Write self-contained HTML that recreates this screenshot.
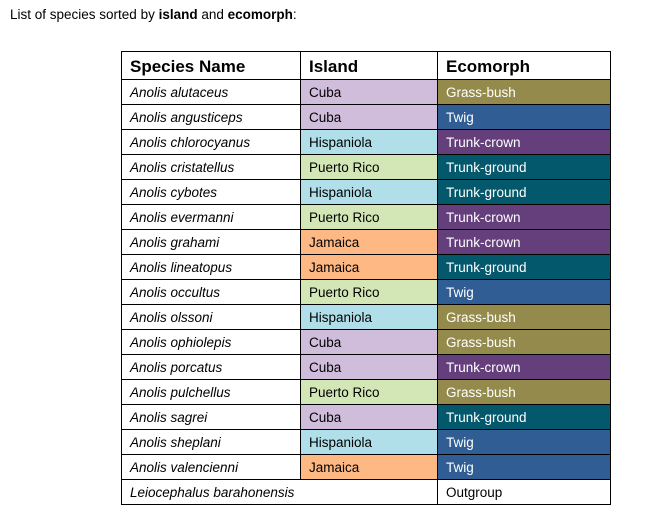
<!DOCTYPE html>
<html><head><meta charset="utf-8"><style>
body{margin:0;width:647px;height:520px;background:#fff;font-family:"Liberation Sans",sans-serif;position:relative;overflow:hidden}
#title{position:absolute;left:10px;top:7px;font-size:13.5px;color:#000}
table{position:absolute;left:121px;top:51px;border-collapse:collapse;table-layout:fixed;width:489px}
td,th{border:1px solid #000;height:24px;padding:0 0 0 8px;font-size:13.5px;text-align:left;white-space:nowrap;overflow:hidden}
th{font-size:17px;font-weight:bold;height:25px;padding-top:2px}
td.sp{font-style:italic}
.Cuba{background:#d0bddb}.Hispaniola{background:#b0dfe9}.PR{background:#d3e6b5}.Jamaica{background:#fdb884}
.gb{background:#948a4c;color:#fff}.tw{background:#2f5d94;color:#fff}.tc{background:#653f7c;color:#fff}.tg{background:#04586b;color:#fff}
</style></head><body>
<div id="title">List of species sorted by <b>island</b> and <b>ecomorph</b>:</div>
<table>
<colgroup><col style="width:179px"><col style="width:137px"><col style="width:173px"></colgroup>
<tr><th>Species Name</th><th>Island</th><th>Ecomorph</th></tr>
<tr><td class="sp">Anolis alutaceus</td><td class="Cuba">Cuba</td><td class="gb">Grass-bush</td></tr>
<tr><td class="sp">Anolis angusticeps</td><td class="Cuba">Cuba</td><td class="tw">Twig</td></tr>
<tr><td class="sp">Anolis chlorocyanus</td><td class="Hispaniola">Hispaniola</td><td class="tc">Trunk-crown</td></tr>
<tr><td class="sp">Anolis cristatellus</td><td class="PR">Puerto Rico</td><td class="tg">Trunk-ground</td></tr>
<tr><td class="sp">Anolis cybotes</td><td class="Hispaniola">Hispaniola</td><td class="tg">Trunk-ground</td></tr>
<tr><td class="sp">Anolis evermanni</td><td class="PR">Puerto Rico</td><td class="tc">Trunk-crown</td></tr>
<tr><td class="sp">Anolis grahami</td><td class="Jamaica">Jamaica</td><td class="tc">Trunk-crown</td></tr>
<tr><td class="sp">Anolis lineatopus</td><td class="Jamaica">Jamaica</td><td class="tg">Trunk-ground</td></tr>
<tr><td class="sp">Anolis occultus</td><td class="PR">Puerto Rico</td><td class="tw">Twig</td></tr>
<tr><td class="sp">Anolis olssoni</td><td class="Hispaniola">Hispaniola</td><td class="gb">Grass-bush</td></tr>
<tr><td class="sp">Anolis ophiolepis</td><td class="Cuba">Cuba</td><td class="gb">Grass-bush</td></tr>
<tr><td class="sp">Anolis porcatus</td><td class="Cuba">Cuba</td><td class="tc">Trunk-crown</td></tr>
<tr><td class="sp">Anolis pulchellus</td><td class="PR">Puerto Rico</td><td class="gb">Grass-bush</td></tr>
<tr><td class="sp">Anolis sagrei</td><td class="Cuba">Cuba</td><td class="tg">Trunk-ground</td></tr>
<tr><td class="sp">Anolis sheplani</td><td class="Hispaniola">Hispaniola</td><td class="tw">Twig</td></tr>
<tr><td class="sp">Anolis valencienni</td><td class="Jamaica">Jamaica</td><td class="tw">Twig</td></tr>
<tr><td class="sp" colspan="2">Leiocephalus barahonensis</td><td>Outgroup</td></tr>
</table>
</body></html>
